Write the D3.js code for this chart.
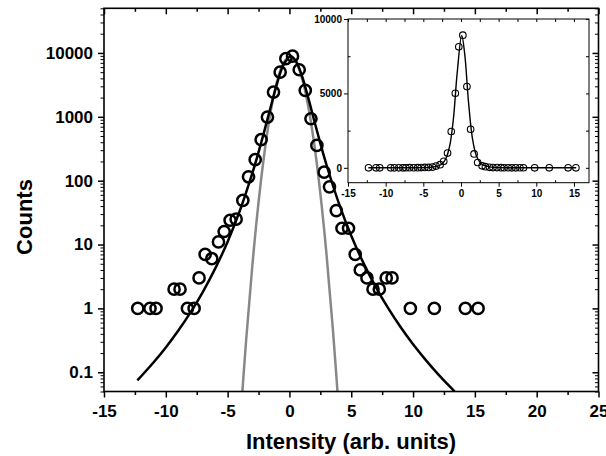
<!DOCTYPE html>
<html>
<head>
<meta charset="utf-8">
<script src="https://cdn.jsdelivr.net/npm/d3@7/dist/d3.min.js"></script>
<style>
  body { margin: 0; background: #fff }
  text { font-family: "Liberation Sans", Arial, sans-serif; font-weight: bold }
</style>
</head>
<body>
<svg id="chart" width="606" height="456"></svg>
<script>
// histogram
var intensity = [-12.27, -11.28, -10.79, -9.33, -8.85, -8.25, -7.71, -7.31, -6.82, -6.28, -5.74, -5.28,
  -4.80, -4.31, -3.77, -3.31, -2.77, -2.29, -1.78, -1.29, -0.75, -0.29, 0.25, 0.79, 1.28, 1.74, 2.22,
  2.81, 3.24, 3.79, 4.25, 4.78, 5.32, 5.73, 6.27, 6.76, 7.27, 7.83, 8.30, 9.78, 11.72, 14.23, 15.26]
var counts = [1, 1, 1, 2, 2, 1, 1, 3, 7, 6, 11, 16,
  24, 25, 49, 115, 213, 438, 990, 2440, 5010, 8130, 8910, 5460, 2590, 933, 357,
  136, 80, 34, 18, 18, 7, 4, 3, 2, 2, 3, 3, 1, 1, 1, 1]

// black fit curve (estimated along the drawn line)
var fitX = [-12.3, -11, -10, -9, -8, -7, -6, -5, -4, -3, -2.5, -2, -1.5, -1, -0.5, 0.1, 0.5, 1, 1.5, 2,
  2.5, 3, 4, 5, 6, 7, 8, 9, 10, 11, 12, 13, 14, 15.3]
var fitY = [0.0745, 0.142, 0.245, 0.446, 0.865, 1.82, 4.23, 11.1, 34.4, 131, 279, 630, 1466, 3310, 6390, 8900, 7640, 4430, 2046, 880,
  384, 176, 44.2, 13.7, 5.07, 2.14, 1.0, 0.507, 0.275, 0.158, 0.0946, 0.0592, 0.038, 0.028]

// grey gaussian curve
var gaussX = [-4, -3.5, -3, -2.5, -2, -1.5, -1, -0.5, 0, 0.5, 1, 1.5, 2, 2.5, 3, 3.5, 4]
var gaussY = [0.0148, 0.323, 4.70, 45.6, 294, 1262, 3610, 6870, 8690, 7330, 4110, 1536, 382, 63.1, 6.95, 0.509, 0.0248]

var xTicks = [-15, -10, -5, 0, 5, 10, 15, 20, 25]
var yTicks = [0.1, 1, 10, 100, 1000, 10000]
var yTickLabels = ["0.1", "1", "10", "100", "1000", "10000"]
var insetXTicks = [-15, -10, -5, 0, 5, 10, 15]
var insetYTicks = [0, 5000, 10000]

var svg = d3.select("#chart")

var x = d3.scaleLinear().domain([-15, 25]).range([104, 598.5])
var y = d3.scaleLog().domain([0.05, 50000]).range([391.5, 8.3])

var xMinor = d3.range(-15, 25.1, 2.5).filter(function (v) { return xTicks.indexOf(v) < 0 })
var yMinor = []
;[0.01, 0.1, 1, 10, 100, 1000, 10000].forEach(function (dec) {
  for (var k = 2; k <= 9; k++) {
    var v = dec * k
    if (v >= 0.05 && v <= 50000) yMinor.push(v)
  }
})

function styleAxis(sel, w) {
  sel.select(".domain").remove()
  sel.selectAll("line").attr("stroke", "#000").attr("stroke-width", w)
}

// main axes
function mainAxes() {
  var gb = svg.append("g").attr("transform", "translate(0,391.5)")
  gb.call(d3.axisBottom(x).tickValues(xTicks).tickSize(6).tickPadding(7).tickSizeOuter(0).tickFormat(d3.format("d")))
  gb.selectAll("text").attr("font-size", 17).attr("fill", "#000").text(function (d) { return String(d).replace("\u2212", "-") })
  styleAxis(gb, 1.5)
  var gbm = svg.append("g").attr("transform", "translate(0,391.5)")
  gbm.call(d3.axisBottom(x).tickValues(xMinor).tickSize(3.5).tickFormat(""))
  styleAxis(gbm, 1.5)

  var gt = svg.append("g").attr("transform", "translate(0,8.3)")
  gt.call(d3.axisTop(x).tickValues(xTicks).tickSize(-6).tickFormat(""))
  styleAxis(gt, 1.5)
  var gtm = svg.append("g").attr("transform", "translate(0,8.3)")
  gtm.call(d3.axisTop(x).tickValues(xMinor).tickSize(-3.5).tickFormat(""))
  styleAxis(gtm, 1.5)

  var gl = svg.append("g").attr("transform", "translate(104,0)")
  gl.call(d3.axisLeft(y).tickValues(yTicks).tickSize(6).tickPadding(5)
    .tickFormat(function (d, i) { return yTickLabels[i] }))
  gl.selectAll("text").attr("font-size", 17).attr("fill", "#000")
  styleAxis(gl, 1.5)
  var glm = svg.append("g").attr("transform", "translate(104,0)")
  glm.call(d3.axisLeft(y).tickValues(yMinor).tickSize(3.5).tickFormat(""))
  styleAxis(glm, 1)

  var gr = svg.append("g").attr("transform", "translate(598.5,0)")
  gr.call(d3.axisRight(y).tickValues(yTicks).tickSize(-6).tickFormat(""))
  styleAxis(gr, 1.5)
  var grm = svg.append("g").attr("transform", "translate(598.5,0)")
  grm.call(d3.axisRight(y).tickValues(yMinor).tickSize(-3.5).tickFormat(""))
  styleAxis(grm, 1)

  svg.append("rect")
    .attr("x", 104).attr("y", 8.3)
    .attr("width", 598.5 - 104).attr("height", 391.5 - 8.3)
    .attr("fill", "none").attr("stroke", "#000").attr("stroke-width", 1.6)
}

svg.append("clipPath").attr("id", "clipMain").append("rect")
  .attr("x", 104).attr("y", 8.3).attr("width", 598.5 - 104).attr("height", 391.5 - 8.3)

var line = d3.line()
  .x(function (d) { return x(d[0]) })
  .y(function (d) { return y(d[1]) })
  .curve(d3.curveCatmullRom)

var plot = svg.append("g").attr("clip-path", "url(#clipMain)")

plot.append("path")
  .datum(d3.zip(gaussX, gaussY))
  .attr("d", line)
  .attr("fill", "none").attr("stroke", "#888").attr("stroke-width", 2.5)

plot.append("path")
  .datum(d3.zip(fitX, fitY))
  .attr("d", line)
  .attr("fill", "none").attr("stroke", "#000").attr("stroke-width", 2.5)

plot.selectAll(".pt").data(d3.zip(intensity, counts))
  .enter().append("circle")
  .attr("class", "pt")
  .attr("cx", function (d) { return x(d[0]) })
  .attr("cy", function (d) { return y(d[1]) })
  .attr("r", 5.6)
  .attr("fill", "none").attr("stroke", "#000").attr("stroke-width", 2.5)

mainAxes()

svg.append("text")
  .attr("x", 351).attr("y", 449)
  .attr("text-anchor", "middle").attr("font-size", 22)
  .text("Intensity (arb. units)")

svg.append("text")
  .attr("transform", "translate(32,217) rotate(-90)")
  .attr("text-anchor", "middle").attr("font-size", 22)
  .text("Counts")

// inset, linear scale
var ix = d3.scaleLinear().domain([-15, 17]).range([348, 589])
var iy = d3.scaleLinear().domain([-1000, 10000]).range([182.7, 19])
var ixMinor = d3.range(-12.5, 17, 5)
var iyMinor = [2500, 7500]

var inset = svg.append("g")
inset.append("rect")
  .attr("x", 348).attr("y", 19).attr("width", 589 - 348).attr("height", 182.7 - 19)
  .attr("fill", "#fff")

var ib = inset.append("g").attr("transform", "translate(0,182.7)")
ib.call(d3.axisBottom(ix).tickValues(insetXTicks).tickSize(4).tickPadding(3).tickFormat(d3.format("d")))
ib.selectAll("text").attr("font-size", 10).attr("fill", "#000").text(function (d) { return String(d) })
styleAxis(ib, 1)
var ibm = inset.append("g").attr("transform", "translate(0,182.7)")
ibm.call(d3.axisBottom(ix).tickValues(ixMinor).tickSize(-2.5).tickFormat(""))
styleAxis(ibm, 1)

var it = inset.append("g").attr("transform", "translate(0,19)")
it.call(d3.axisTop(ix).tickValues(insetXTicks.concat(ixMinor)).tickSize(-3).tickFormat(""))
styleAxis(it, 1)

var il = inset.append("g").attr("transform", "translate(348,0)")
il.call(d3.axisLeft(iy).tickValues(insetYTicks).tickSize(4).tickPadding(2).tickFormat(d3.format("d")))
il.selectAll("text").attr("font-size", 10).attr("fill", "#000")
styleAxis(il, 1)
var ilm = inset.append("g").attr("transform", "translate(348,0)")
ilm.call(d3.axisLeft(iy).tickValues(iyMinor).tickSize(-2.5).tickFormat(""))
styleAxis(ilm, 1)

var ir = inset.append("g").attr("transform", "translate(589,0)")
ir.call(d3.axisRight(iy).tickValues(insetYTicks.concat(iyMinor)).tickSize(-3).tickFormat(""))
styleAxis(ir, 1)

var iline = d3.line()
  .x(function (d) { return ix(d[0]) })
  .y(function (d) { return iy(d[1]) })
  .curve(d3.curveCatmullRom)

inset.append("path")
  .datum(d3.zip(fitX, fitY))
  .attr("d", iline)
  .attr("fill", "none").attr("stroke", "#000").attr("stroke-width", 1.4)

inset.selectAll(".ipt").data(d3.zip(intensity, counts))
  .enter().append("circle")
  .attr("class", "ipt")
  .attr("cx", function (d) { return ix(d[0]) })
  .attr("cy", function (d) { return iy(d[1]) })
  .attr("r", 3.3)
  .attr("fill", "none").attr("stroke", "#000").attr("stroke-width", 1.1)

inset.append("rect")
  .attr("x", 348).attr("y", 19).attr("width", 589 - 348).attr("height", 182.7 - 19)
  .attr("fill", "none").attr("stroke", "#000").attr("stroke-width", 1)
</script>
</body>
</html>
